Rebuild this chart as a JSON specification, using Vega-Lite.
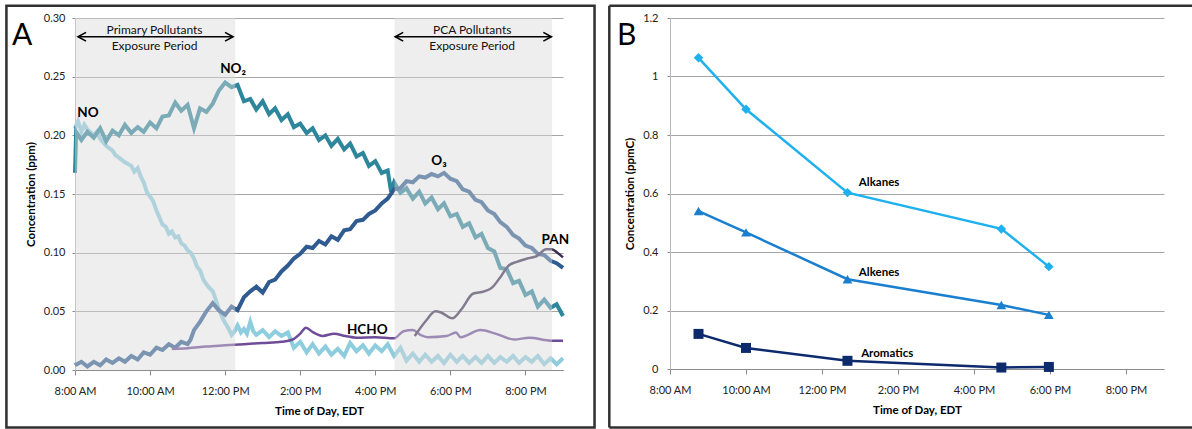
{
"$schema": "https://vega.github.io/schema/vega-lite/v6.json",
"padding": {"left": 5, "top": 4, "right": 0, "bottom": 0},
"autosize": {"type": "pad"},
"background": "white",
"spacing": 12,
"config": {
 "font": "Lato",
 "view": {"stroke": null},
 "axis": {"labelFont": "Lato", "labelFontSize": 11, "labelColor": "#222", "labelFlush": false, "titleFont": "Lato", "titleFontSize": 11.5, "titleFontWeight": "bold", "titleColor": "#000", "domainColor": "#8c8c8c", "tickColor": "#8c8c8c", "gridColor": "#a6a6a6"}
},
"datasets": {
 "one": [{}],
 "no": [{"h":8.00,"v":0.206},{"h":8.08,"v":0.212},{"h":8.17,"v":0.203},{"h":8.25,"v":0.209},{"h":8.33,"v":0.205},{"h":8.50,"v":0.200},{"h":8.58,"v":0.203},{"h":8.67,"v":0.197},{"h":8.83,"v":0.191},{"h":9.00,"v":0.187},{"h":9.08,"v":0.183},{"h":9.17,"v":0.181},{"h":9.33,"v":0.177},{"h":9.50,"v":0.174},{"h":9.58,"v":0.169},{"h":9.67,"v":0.172},{"h":9.75,"v":0.165},{"h":9.83,"v":0.160},{"h":9.92,"v":0.151},{"h":10.00,"v":0.148},{"h":10.08,"v":0.144},{"h":10.17,"v":0.136},{"h":10.33,"v":0.124},{"h":10.42,"v":0.122},{"h":10.50,"v":0.116},{"h":10.58,"v":0.118},{"h":10.67,"v":0.113},{"h":10.75,"v":0.114},{"h":10.83,"v":0.108},{"h":10.92,"v":0.106},{"h":11.00,"v":0.102},{"h":11.08,"v":0.100},{"h":11.17,"v":0.095},{"h":11.25,"v":0.088},{"h":11.33,"v":0.085},{"h":11.42,"v":0.077},{"h":11.50,"v":0.073},{"h":11.58,"v":0.070},{"h":11.67,"v":0.067},{"h":11.75,"v":0.060},{"h":11.83,"v":0.052},{"h":11.92,"v":0.045},{"h":12.00,"v":0.040},{"h":12.08,"v":0.036},{"h":12.17,"v":0.030},{"h":12.25,"v":0.033},{"h":12.33,"v":0.038},{"h":12.42,"v":0.032},{"h":12.50,"v":0.035},{"h":12.58,"v":0.031},{"h":12.67,"v":0.041},{"h":12.75,"v":0.033},{"h":12.83,"v":0.030},{"h":13.00,"v":0.034},{"h":13.17,"v":0.028},{"h":13.33,"v":0.033},{"h":13.50,"v":0.029},{"h":13.67,"v":0.032},{"h":13.83,"v":0.019},{"h":14.00,"v":0.024},{"h":14.17,"v":0.015},{"h":14.33,"v":0.022},{"h":14.50,"v":0.014},{"h":14.67,"v":0.020},{"h":14.83,"v":0.013},{"h":15.00,"v":0.018},{"h":15.17,"v":0.012},{"h":15.33,"v":0.023},{"h":15.50,"v":0.016},{"h":15.67,"v":0.021},{"h":15.83,"v":0.014},{"h":16.00,"v":0.021},{"h":16.17,"v":0.016},{"h":16.33,"v":0.022},{"h":16.50,"v":0.012},{"h":16.67,"v":0.019},{"h":16.83,"v":0.008},{"h":17.00,"v":0.014},{"h":17.17,"v":0.007},{"h":17.33,"v":0.013},{"h":17.50,"v":0.007},{"h":17.67,"v":0.012},{"h":17.83,"v":0.006},{"h":18.00,"v":0.013},{"h":18.17,"v":0.007},{"h":18.33,"v":0.012},{"h":18.50,"v":0.006},{"h":18.67,"v":0.011},{"h":18.83,"v":0.006},{"h":19.00,"v":0.012},{"h":19.17,"v":0.006},{"h":19.33,"v":0.011},{"h":19.50,"v":0.007},{"h":19.67,"v":0.012},{"h":19.83,"v":0.006},{"h":20.00,"v":0.011},{"h":20.17,"v":0.007},{"h":20.33,"v":0.012},{"h":20.50,"v":0.005},{"h":20.67,"v":0.010},{"h":20.83,"v":0.005},{"h":21.00,"v":0.010}],
 "no2": [{"h":8.00,"v":0.168},{"h":8.03,"v":0.203},{"h":8.17,"v":0.196},{"h":8.33,"v":0.203},{"h":8.50,"v":0.198},{"h":8.67,"v":0.206},{"h":8.83,"v":0.195},{"h":9.00,"v":0.204},{"h":9.17,"v":0.200},{"h":9.33,"v":0.209},{"h":9.50,"v":0.202},{"h":9.67,"v":0.207},{"h":9.83,"v":0.203},{"h":10.00,"v":0.211},{"h":10.17,"v":0.206},{"h":10.33,"v":0.216},{"h":10.50,"v":0.217},{"h":10.67,"v":0.228},{"h":10.83,"v":0.221},{"h":11.00,"v":0.226},{"h":11.17,"v":0.206},{"h":11.33,"v":0.223},{"h":11.50,"v":0.220},{"h":11.67,"v":0.227},{"h":11.83,"v":0.238},{"h":12.00,"v":0.245},{"h":12.17,"v":0.241},{"h":12.33,"v":0.243},{"h":12.50,"v":0.229},{"h":12.67,"v":0.231},{"h":12.83,"v":0.222},{"h":13.00,"v":0.229},{"h":13.17,"v":0.218},{"h":13.33,"v":0.223},{"h":13.50,"v":0.213},{"h":13.67,"v":0.218},{"h":13.83,"v":0.207},{"h":14.00,"v":0.210},{"h":14.17,"v":0.202},{"h":14.33,"v":0.206},{"h":14.50,"v":0.196},{"h":14.67,"v":0.200},{"h":14.83,"v":0.191},{"h":15.00,"v":0.197},{"h":15.17,"v":0.188},{"h":15.33,"v":0.193},{"h":15.50,"v":0.182},{"h":15.67,"v":0.185},{"h":15.83,"v":0.174},{"h":16.00,"v":0.178},{"h":16.17,"v":0.168},{"h":16.33,"v":0.170},{"h":16.42,"v":0.152},{"h":16.50,"v":0.160},{"h":16.67,"v":0.151},{"h":16.83,"v":0.155},{"h":17.00,"v":0.146},{"h":17.17,"v":0.152},{"h":17.33,"v":0.142},{"h":17.50,"v":0.147},{"h":17.67,"v":0.137},{"h":17.83,"v":0.142},{"h":18.00,"v":0.131},{"h":18.17,"v":0.133},{"h":18.33,"v":0.122},{"h":18.50,"v":0.125},{"h":18.67,"v":0.113},{"h":18.83,"v":0.116},{"h":19.00,"v":0.104},{"h":19.17,"v":0.101},{"h":19.33,"v":0.087},{"h":19.50,"v":0.086},{"h":19.67,"v":0.074},{"h":19.83,"v":0.076},{"h":20.00,"v":0.064},{"h":20.17,"v":0.067},{"h":20.33,"v":0.054},{"h":20.50,"v":0.060},{"h":20.67,"v":0.053},{"h":20.83,"v":0.056},{"h":21.00,"v":0.046}],
 "o3": [{"h":8.00,"v":0.004},{"h":8.17,"v":0.007},{"h":8.33,"v":0.003},{"h":8.50,"v":0.007},{"h":8.67,"v":0.004},{"h":8.83,"v":0.009},{"h":9.00,"v":0.006},{"h":9.17,"v":0.010},{"h":9.33,"v":0.007},{"h":9.50,"v":0.012},{"h":9.67,"v":0.009},{"h":9.83,"v":0.015},{"h":10.00,"v":0.013},{"h":10.17,"v":0.019},{"h":10.33,"v":0.017},{"h":10.50,"v":0.022},{"h":10.67,"v":0.019},{"h":10.83,"v":0.024},{"h":11.00,"v":0.022},{"h":11.08,"v":0.026},{"h":11.17,"v":0.034},{"h":11.33,"v":0.041},{"h":11.50,"v":0.050},{"h":11.67,"v":0.057},{"h":11.83,"v":0.051},{"h":12.00,"v":0.047},{"h":12.17,"v":0.054},{"h":12.33,"v":0.051},{"h":12.50,"v":0.062},{"h":12.67,"v":0.067},{"h":12.83,"v":0.071},{"h":13.00,"v":0.066},{"h":13.17,"v":0.075},{"h":13.33,"v":0.077},{"h":13.50,"v":0.084},{"h":13.67,"v":0.089},{"h":13.83,"v":0.095},{"h":14.00,"v":0.099},{"h":14.17,"v":0.105},{"h":14.33,"v":0.104},{"h":14.50,"v":0.110},{"h":14.67,"v":0.107},{"h":14.83,"v":0.114},{"h":15.00,"v":0.111},{"h":15.17,"v":0.119},{"h":15.33,"v":0.120},{"h":15.50,"v":0.127},{"h":15.67,"v":0.128},{"h":15.83,"v":0.133},{"h":16.00,"v":0.136},{"h":16.17,"v":0.142},{"h":16.33,"v":0.146},{"h":16.50,"v":0.154},{"h":16.67,"v":0.155},{"h":16.83,"v":0.161},{"h":17.00,"v":0.160},{"h":17.17,"v":0.165},{"h":17.33,"v":0.164},{"h":17.50,"v":0.167},{"h":17.67,"v":0.165},{"h":17.83,"v":0.168},{"h":18.00,"v":0.163},{"h":18.17,"v":0.161},{"h":18.33,"v":0.154},{"h":18.50,"v":0.152},{"h":18.67,"v":0.145},{"h":18.83,"v":0.143},{"h":19.00,"v":0.136},{"h":19.17,"v":0.133},{"h":19.33,"v":0.126},{"h":19.50,"v":0.122},{"h":19.67,"v":0.115},{"h":19.83,"v":0.112},{"h":20.00,"v":0.106},{"h":20.17,"v":0.104},{"h":20.33,"v":0.099},{"h":20.50,"v":0.098},{"h":20.67,"v":0.093},{"h":20.83,"v":0.091},{"h":21.00,"v":0.087}],
 "hcho": [{"h":10.58,"v":0.018},{"h":11.0,"v":0.0185},{"h":11.5,"v":0.020},{"h":12.0,"v":0.021},{"h":12.5,"v":0.022},{"h":13.0,"v":0.023},{"h":13.5,"v":0.024},{"h":13.8,"v":0.026},{"h":14.0,"v":0.031},{"h":14.15,"v":0.036},{"h":14.35,"v":0.032},{"h":14.6,"v":0.029},{"h":14.9,"v":0.031},{"h":15.2,"v":0.029},{"h":15.5,"v":0.0275},{"h":16.0,"v":0.028},{"h":16.5,"v":0.027},{"h":16.75,"v":0.033},{"h":17.0,"v":0.034},{"h":17.2,"v":0.030},{"h":17.4,"v":0.028},{"h":17.9,"v":0.029},{"h":18.15,"v":0.032},{"h":18.27,"v":0.028},{"h":18.8,"v":0.034},{"h":19.2,"v":0.031},{"h":19.7,"v":0.026},{"h":20.1,"v":0.0275},{"h":20.7,"v":0.025},{"h":21.0,"v":0.025}],
 "pan": [{"h":17.05,"v":0.029},{"h":17.35,"v":0.042},{"h":17.6,"v":0.050},{"h":17.75,"v":0.049},{"h":18.05,"v":0.044},{"h":18.3,"v":0.052},{"h":18.6,"v":0.065},{"h":18.9,"v":0.067},{"h":19.1,"v":0.070},{"h":19.35,"v":0.080},{"h":19.55,"v":0.089},{"h":19.75,"v":0.092},{"h":20.05,"v":0.095},{"h":20.3,"v":0.097},{"h":20.55,"v":0.103},{"h":20.7,"v":0.103},{"h":20.85,"v":0.100},{"h":21.0,"v":0.096}],
 "periods": [{"h":8.0,"h2":12.27},{"h":16.515,"h2":20.71}],
 "arrows": [{"h":8.08,"h2":12.21,"v":0.284},{"h":16.53,"h2":20.69,"v":0.284}],
 "periodText": [{"h":10.12,"v":0.290,"label":"Primary Pollutants"},{"h":10.12,"v":0.2765,"label":"Exposure Period"},{"h":18.58,"v":0.290,"label":"PCA Pollutants"},{"h":18.58,"v":0.2765,"label":"Exposure Period"}],
 "speciesText": [{"h":8.06,"v":0.2154,"label":"NO"},{"h":11.867,"v":0.2529,"label":"NO₂"},{"h":17.49,"v":0.1748,"label":"O₃"},{"h":15.245,"v":0.0307,"label":"HCHO"},{"h":20.43,"v":0.1074,"label":"PAN"}],
 "voc": [{"h":8.75,"s":"Alkanes","v":1.064},{"h":10.0,"s":"Alkanes","v":0.888},{"h":12.67,"s":"Alkanes","v":0.603},{"h":16.72,"s":"Alkanes","v":0.479},{"h":17.97,"s":"Alkanes","v":0.35},{"h":8.75,"s":"Alkenes","v":0.54},{"h":10.0,"s":"Alkenes","v":0.467},{"h":12.67,"s":"Alkenes","v":0.307},{"h":16.72,"s":"Alkenes","v":0.219},{"h":17.97,"s":"Alkenes","v":0.185},{"h":8.75,"s":"Aromatics","v":0.12},{"h":10.0,"s":"Aromatics","v":0.072},{"h":12.67,"s":"Aromatics","v":0.028},{"h":16.72,"s":"Aromatics","v":0.005},{"h":17.97,"s":"Aromatics","v":0.007}],
 "vocText": [{"h":12.97,"v":0.626,"label":"Alkanes"},{"h":12.97,"v":0.318,"label":"Alkenes"},{"h":13.03,"v":0.041,"label":"Aromatics"}]
},
"hconcat": [
 {
  "width": 488, "height": 352,
  "layer": [
   {"data": {"name": "no"}, "mark": {"type": "line", "color": "#8dcdde", "strokeWidth": 4},
    "encoding": {
     "x": {"field": "h", "type": "quantitative", "scale": {"domain": [8, 21], "nice": false, "zero": false},
       "axis": {"values": [8,10,12,14,16,18,20], "labelExpr": "(datum.value % 12 == 0 ? 12 : datum.value % 12) + ':00 ' + (datum.value < 12 ? 'AM' : 'PM')", "title": "Time of Day, EDT", "grid": false, "tickSize": 5, "labelPadding": 10, "titlePadding": 9}},
     "y": {"field": "v", "type": "quantitative", "scale": {"domain": [0, 0.3], "nice": false, "zero": false},
       "axis": {"values": [0,0.05,0.1,0.15,0.2,0.25,0.3], "format": ".2f", "title": "Concentration (ppm)", "grid": true, "tickSize": 3, "labelPadding": 7, "titlePadding": 7, "domainColor": "#b8b8b8"}}
    }},
   {"data": {"name": "no2"}, "mark": {"type": "line", "color": "#2e869c", "strokeWidth": 4},
    "encoding": {"x": {"field": "h", "type": "quantitative"}, "y": {"field": "v", "type": "quantitative"}}},
   {"data": {"name": "o3"}, "mark": {"type": "line", "color": "#2f5b91", "strokeWidth": 4},
    "encoding": {"x": {"field": "h", "type": "quantitative"}, "y": {"field": "v", "type": "quantitative"}}},
   {"data": {"name": "hcho"}, "mark": {"type": "line", "color": "#6e4c98", "strokeWidth": 2.5, "interpolate": "monotone"},
    "encoding": {"x": {"field": "h", "type": "quantitative"}, "y": {"field": "v", "type": "quantitative"}}},
   {"data": {"name": "pan"}, "mark": {"type": "line", "color": "#3d2d55", "strokeWidth": 2.5, "interpolate": "monotone"},
    "encoding": {"x": {"field": "h", "type": "quantitative"}, "y": {"field": "v", "type": "quantitative"}}},
   {"data": {"name": "periods"}, "mark": {"type": "rect", "color": "#d9d9d9", "opacity": 0.45},
    "encoding": {"x": {"field": "h", "type": "quantitative"}, "x2": {"field": "h2"}, "y": {"datum": 0}, "y2": {"datum": 0.3}}},
   {"data": {"name": "arrows"}, "mark": {"type": "rule", "color": "#000", "strokeWidth": 1.6},
    "encoding": {"x": {"field": "h", "type": "quantitative"}, "x2": {"field": "h2"}, "y": {"field": "v", "type": "quantitative"}}},
   {"data": {"name": "arrows"}, "mark": {"type": "point", "shape": "M1,-0.55L0,0L1,0.55", "filled": false, "stroke": "#000", "strokeWidth": 1.6, "size": 256, "opacity": 1},
    "encoding": {"x": {"field": "h", "type": "quantitative"}, "y": {"field": "v", "type": "quantitative"}}},
   {"data": {"name": "arrows"}, "mark": {"type": "point", "shape": "M-1,-0.55L0,0L-1,0.55", "filled": false, "stroke": "#000", "strokeWidth": 1.6, "size": 256, "opacity": 1},
    "encoding": {"x": {"field": "h2", "type": "quantitative"}, "y": {"field": "v", "type": "quantitative"}}},
   {"data": {"name": "periodText"}, "mark": {"type": "text", "align": "center", "baseline": "middle", "fontSize": 12, "font": "Lato", "color": "#111"},
    "encoding": {"x": {"field": "h", "type": "quantitative"}, "y": {"field": "v", "type": "quantitative"}, "text": {"field": "label"}}},
   {"data": {"name": "speciesText"}, "mark": {"type": "text", "align": "left", "baseline": "alphabetic", "fontSize": 13.5, "fontWeight": "bold", "font": "Lato", "color": "#000"},
    "encoding": {"x": {"field": "h", "type": "quantitative"}, "y": {"field": "v", "type": "quantitative"}, "text": {"field": "label"}}},
   {"data": {"name": "one"}, "mark": {"type": "text", "text": "A", "align": "left", "baseline": "alphabetic", "fontSize": 30, "font": "Lato", "color": "#000", "clip": false},
    "encoding": {"x": {"datum": 6.32}, "y": {"datum": 0.277}}},
   {"data": {"name": "one"}, "mark": {"type": "rect", "fill": "#ffffff", "fillOpacity": 0, "stroke": "#303030", "strokeWidth": 2.5, "clip": false},
    "encoding": {"x": {"datum": 6.173}, "x2": {"datum": 21.84}, "y": {"datum": 0.3105}, "y2": {"datum": -0.049}}}
  ]
 },
 {
  "width": 494, "height": 351,
  "layer": [
   {"data": {"name": "voc"}, "mark": {"type": "line", "strokeWidth": 2.5},
    "encoding": {
     "x": {"field": "h", "type": "quantitative", "scale": {"domain": [8, 21], "nice": false, "zero": false},
       "axis": {"values": [8,10,12,14,16,18,20], "labelExpr": "(datum.value % 12 == 0 ? 12 : datum.value % 12) + ':00 ' + (datum.value < 12 ? 'AM' : 'PM')", "title": "Time of Day, EDT", "grid": false, "tickSize": 5, "labelPadding": 10, "titlePadding": 9}},
     "y": {"field": "v", "type": "quantitative", "scale": {"domain": [0, 1.2], "nice": false, "zero": false},
       "axis": {"values": [0,0.2,0.4,0.6,0.8,1,1.2], "format": ".1~f", "title": "Concentration (ppmC)", "grid": true, "tickSize": 3, "labelPadding": 9, "titlePadding": 7, "domainColor": "#b8b8b8"}},
     "color": {"field": "s", "type": "nominal", "scale": {"domain": ["Alkanes", "Alkenes", "Aromatics"], "range": ["#1fb0ee", "#1a7fcf", "#0c2a6c"]}, "legend": null}
    }},
   {"data": {"name": "voc"}, "mark": {"type": "point", "filled": true, "opacity": 1},
    "encoding": {
     "x": {"field": "h", "type": "quantitative"},
     "y": {"field": "v", "type": "quantitative"},
     "color": {"field": "s", "type": "nominal", "legend": null},
     "shape": {"field": "s", "type": "nominal", "scale": {"domain": ["Alkanes", "Alkenes", "Aromatics"], "range": ["diamond", "triangle-up", "square"]}, "legend": null},
     "size": {"field": "s", "type": "nominal", "scale": {"domain": ["Alkanes", "Alkenes", "Aromatics"], "range": [90, 100, 50]}, "legend": null}
    }},
   {"data": {"name": "vocText"}, "mark": {"type": "text", "align": "left", "baseline": "alphabetic", "fontSize": 11.5, "fontWeight": "bold", "font": "Lato", "color": "#000"},
    "encoding": {"x": {"field": "h", "type": "quantitative"}, "y": {"field": "v", "type": "quantitative"}, "text": {"field": "label"}}},
   {"data": {"name": "one"}, "mark": {"type": "text", "text": "B", "align": "left", "baseline": "alphabetic", "fontSize": 30, "font": "Lato", "color": "#000", "clip": false},
    "encoding": {"x": {"datum": 6.605}, "y": {"datum": 1.1077}}},
   {"data": {"name": "one"}, "mark": {"type": "rule", "color": "#303030", "strokeWidth": 2.5, "clip": false},
    "encoding": {"x": {"datum": 6.403}, "y": {"datum": 1.2421}, "y2": {"datum": -0.2}}},
   {"data": {"name": "one"}, "mark": {"type": "rule", "color": "#303030", "strokeWidth": 2.5, "clip": false},
    "encoding": {"x": {"datum": 6.403}, "x2": {"datum": 21.737}, "y": {"datum": 1.2421}}},
   {"data": {"name": "one"}, "mark": {"type": "rule", "color": "#303030", "strokeWidth": 2.5, "clip": false},
    "encoding": {"x": {"datum": 6.403}, "x2": {"datum": 21.737}, "y": {"datum": -0.2}}}
  ]
 }
]
}
